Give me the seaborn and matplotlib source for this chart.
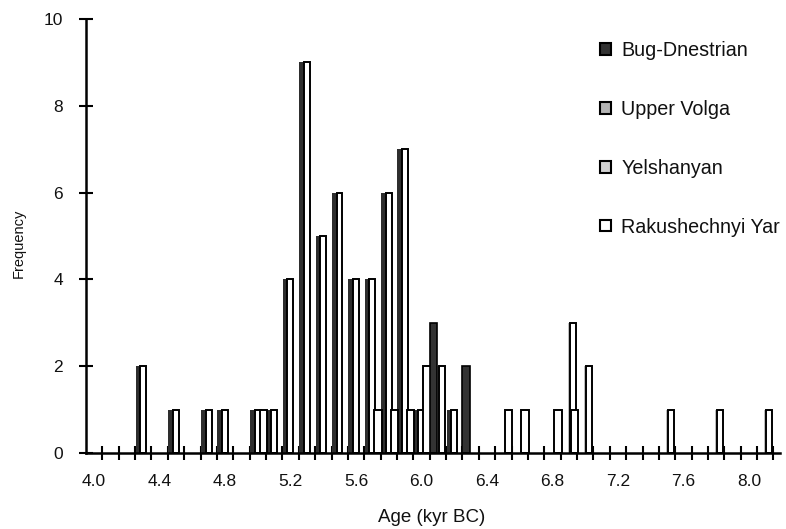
import numpy as np
import pandas as pd
import matplotlib
matplotlib.use("Agg")
import matplotlib.pyplot as plt
import seaborn as sns
from matplotlib.patches import Patch

# ---------------- data ----------------
bug_ages = [6.1, 6.3]
bug_counts = [3, 2]
volga_ages = [4.3, 4.5, 4.7, 4.8, 5.0, 5.1, 5.2, 5.3, 5.4, 5.5, 5.6, 5.7, 5.8, 5.9, 6.0, 6.2]
volga_counts = [2, 1, 1, 1, 1, 1, 4, 9, 5, 6, 4, 4, 6, 7, 1, 1]
yel_ages = [6.1, 6.9, 7.0, 7.5, 7.8, 8.1]
yel_counts = [2, 3, 2, 1, 1, 1]
rak_ages = [5.0, 5.7, 5.8, 5.9, 6.0, 6.5, 6.6, 6.8, 6.9]
rak_counts = [1, 1, 1, 1, 2, 1, 1, 1, 1]
series_names = ["Bug-Dnestrian", "Upper Volga", "Yelshanyan", "Rakushechnyi Yar"]
x_tick_values = [4.0, 4.4, 4.8, 5.2, 5.6, 6.0, 6.4, 6.8, 7.2, 7.6, 8.0]
y_tick_values = [0, 2, 4, 6, 8, 10]

# ---------------- style ----------------
sns.set_theme(style="white")
plt.rcParams["font.family"] = ["Liberation Sans", "DejaVu Sans"]

W, H = 786, 529
fig = plt.figure(figsize=(W / 100, H / 100), dpi=100)
ax = fig.add_axes([86 / W, 1 - 453 / H, (780 - 86) / W, (453 - 19) / H])

BIN = 0.1
XMIN, XMAX = 3.95, 8.19


def bars(ages, counts, offset, width, color, edge="none", lw=0.0, z=2):
    """Draw one series as a histogram (0.1 kyr bins) shifted by offset."""
    df = pd.DataFrame({"age": ages, "n": counts})
    edges = (np.arange(3.95, 8.2, BIN) + offset).tolist()
    n0 = len(ax.patches)
    sns.histplot(data=df, x="age", weights="n", bins=edges, shrink=width / BIN,
                 color=color, edgecolor=edge, linewidth=lw, alpha=1,
                 ax=ax, legend=False, zorder=z)
    for p in ax.patches[n0:]:
        if p.get_height() == 0:
            p.set_visible(False)
        p.set_zorder(z)


# Upper Volga: dark shaded left part (with a softer grey fade) + white outlined part
bars(volga_ages, volga_counts, -0.015 - 0.0145, 0.035, "#2e2e2e", z=2)
bars(volga_ages, volga_counts, -0.015 + 0.000, 0.012, "#8c8c8c", z=2.5)
bars(volga_ages, volga_counts, -0.015 + 0.014, 0.036, "white", "black", 1.4, z=3)
# Yelshanyan: light grey shaded left part + white outlined part
bars(yel_ages, yel_counts, 0.018 - 0.014, 0.018, "#bdbdbd", z=4)
bars(yel_ages, yel_counts, 0.018 + 0.006, 0.034, "white", "black", 1.4, z=5)
# Rakushechnyi Yar: white outlined
bars(rak_ages, rak_counts, 0.033, 0.045, "white", "black", 1.4, z=6)
# Bug-Dnestrian: dark solid
bars(bug_ages, bug_counts, -0.027, 0.046, "#333333", "black", 1.2, z=7)

ax.set_xlim(XMIN, XMAX)
ax.set_ylim(0, 10)
ax.set_xlabel("")
ax.set_ylabel("")

for s in ["top", "right"]:
    ax.spines[s].set_visible(False)
for s in ["left", "bottom"]:
    ax.spines[s].set_color("black")
    ax.spines[s].set_linewidth(1.8)
    ax.spines[s].set_zorder(10)

ax.set_xticks(x_tick_values)
ax.set_xticklabels([f"{v:.1f}" for v in x_tick_values])
ax.set_xticks(np.arange(4.05, 8.2, BIN), minor=True)
ax.set_yticks(y_tick_values)
ax.set_yticklabels([str(v) for v in y_tick_values])

ax.tick_params(axis="x", which="major", length=0, pad=15, labelsize=12.5, colors="black")
ax.tick_params(axis="x", which="minor", length=10, width=1.5, direction="inout", color="black", bottom=True)
ax.tick_params(axis="y", which="major", length=10, width=1.5, direction="inout",
               pad=11.5, labelsize=12.5, color="black", left=True)
for lab in ax.get_xticklabels() + ax.get_yticklabels():
    lab.set_color("#111111")

fig.text(19 / W, 1 - 243 / H, "Frequency", rotation=90, ha="center", va="center",
         fontsize=10.5, color="#111111")
fig.text(432 / W, 1 - 517 / H, "Age (kyr BC)", ha="center", va="center",
         fontsize=13.5, color="#111111")

handles = [
    Patch(facecolor="#333333", edgecolor="black", linewidth=1.5),
    Patch(facecolor="#b4b4b4", edgecolor="black", linewidth=1.5),
    Patch(facecolor="#d2d2d2", edgecolor="black", linewidth=1.5),
    Patch(facecolor="white", edgecolor="black", linewidth=1.5),
]
leg = ax.legend(handles, series_names, loc="upper left",
                bbox_to_anchor=(600 / W, 1 - 41 / H), bbox_transform=fig.transFigure,
                frameon=False, fontsize=14.2, handlelength=0.55, handleheight=0.55,
                handletextpad=0.52, labelspacing=2.02, borderpad=0, borderaxespad=0)
for t in leg.get_texts():
    t.set_color("#111111")

fig.savefig("out.png", dpi=100, facecolor="white")
